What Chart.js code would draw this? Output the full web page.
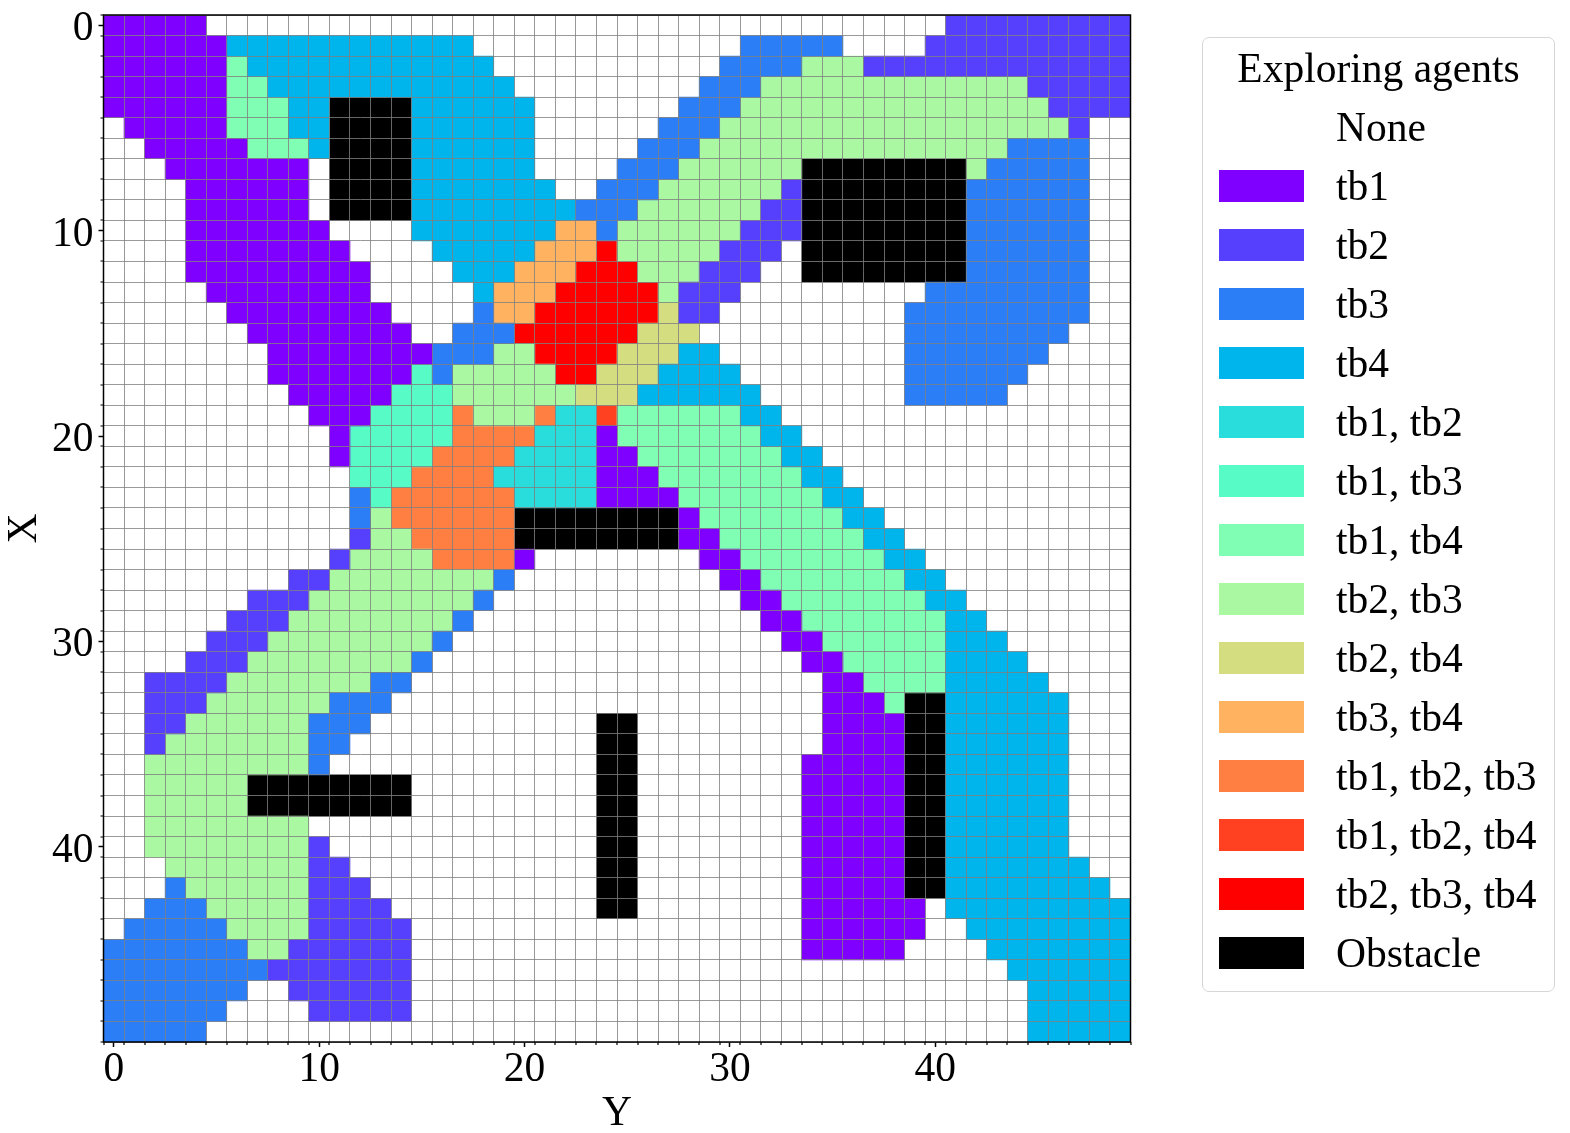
<!DOCTYPE html>
<html lang="en">
<head>
  <meta charset="UTF-8">
  <title>Exploring agents</title>
  <script src="https://cdn.jsdelivr.net/npm/chart.js"></script>
  <style>
    body {
      margin: 0;
      background: #ffffff;
      font-family: 'Liberation Serif', serif;
      color: #000000;
    }
    #wrap {
      position: relative;
      width: 1570px;
      height: 1133px;
      overflow: hidden;
    }
    #legend {
      position: absolute;
      left: 1202px;
      top: 37px;
      width: 351px;
      height: 953px;
      border: 1.5px solid #d6d6d6;
      border-radius: 7px;
      font-size: 41.5px;
    }
    #legend .title {
      position: absolute;
      left: 0;
      right: 0;
      top: 3px;
      line-height: 54px;
      text-align: center;
    }
    #legend .row {
      position: absolute;
      left: 16px;
      height: 59px;
      display: flex;
      align-items: center;
    }
    #legend .swatch {
      width: 85px;
      height: 32px;
      margin-right: 32px;
    }
  </style>
</head>
<body>
  <div id="wrap">
    <canvas id="grid" width="1570" height="1133"></canvas>
    <div id="legend"></div>
  </div>

  <script>
    const categories = ['None', 'tb1', 'tb2', 'tb3', 'tb4', 'tb1, tb2', 'tb1, tb3', 'tb1, tb4', 'tb2, tb3', 'tb2, tb4', 'tb3, tb4', 'tb1, tb2, tb3', 'tb1, tb2, tb4', 'tb2, tb3, tb4', 'Obstacle'];
    const categoryCodes = ['.', 'a', 'b', 'c', 'd', 'e', 'f', 'g', 'h', 'i', 'j', 'k', 'l', 'm', 'X'];
    const categoryColors = ['#ffffff', '#8000ff', '#5640fe', '#2c7ef7', '#00b5eb', '#2adddd', '#56fbc6', '#80ffb4', '#aaf9a2', '#d4dd80', '#ffb360', '#ff7e41', '#ff4121', '#ff0000', '#000000'];
    const xTickLabels = [0, 10, 20, 30, 40];
    const yTickLabels = [0, 10, 20, 30, 40];

    // one entry per row X = 0..49, each run is code + first Y - last Y
    const gridRuns = [
      'a0-4 b41-49',
      'a0-5 d6-17 c31-35 b40-49',
      'a0-5 g6-6 d7-18 c30-33 h34-36 b37-49',
      'a0-5 g6-7 d8-19 c29-31 h32-44 b45-49',
      'a0-5 g6-8 d9-10 X11-14 d15-20 c28-30 h31-45 b46-49',
      'a1-5 g6-8 d9-10 X11-14 d15-20 c27-29 h30-46 b47-47',
      'a2-6 g7-9 d10-10 X11-14 d15-20 c26-28 h29-43 c44-47',
      'a3-9 X11-14 d15-20 c25-27 h28-33 X34-41 h42-42 c43-47',
      'a4-9 X11-14 d15-21 c24-26 h27-32 b33-33 X34-41 c42-47',
      'a4-9 X11-14 d15-22 c23-25 h26-31 b32-33 X34-41 c42-47',
      'a4-10 d15-21 j22-23 c24-24 h25-30 b31-33 X34-41 c42-47',
      'a4-11 d16-20 j21-23 m24-24 h25-29 b30-32 X34-41 c42-47',
      'a4-12 d17-19 j20-22 m23-25 h26-28 b29-31 X34-41 c42-47',
      'a5-12 d18-18 j19-21 m22-26 h27-27 b28-30 c40-47',
      'a6-13 c18-18 j19-20 m21-26 i27-27 b28-29 c39-47',
      'a7-14 c17-19 m20-25 i26-28 c39-46',
      'a8-15 c16-18 h19-20 m21-24 i25-27 d28-29 c39-45',
      'a8-14 f15-15 c16-16 h17-21 m22-23 i24-26 d27-30 c39-44',
      'a9-13 f14-16 h17-22 i23-25 d26-31 c39-43',
      'a10-12 f13-16 k17-17 h18-20 k21-21 e22-23 l24-24 g25-30 d31-32',
      'a11-11 f12-16 k17-20 e21-23 a24-24 g25-31 d32-33',
      'a11-11 f12-15 k16-19 e20-23 a24-25 g26-32 d33-34',
      'f12-14 k15-18 e19-23 a24-26 g27-33 d34-35',
      'c12-12 f13-13 k14-19 e20-23 a24-27 g28-34 d35-36',
      'c12-12 h13-13 k14-19 X20-27 a28-28 g29-35 d36-37',
      'b12-12 h13-14 k15-19 X20-27 a28-29 g30-36 d37-38',
      'b11-11 h12-15 k16-19 a20-20 a29-30 g31-37 d38-39',
      'b9-10 h11-18 c19-19 a30-31 g32-38 d39-40',
      'b7-9 h10-17 c18-18 a31-32 g33-39 d40-41',
      'b6-8 h9-16 c17-17 a32-33 g34-40 d41-42',
      'b5-7 h8-15 c16-16 a33-34 g35-40 d41-43',
      'b4-6 h7-14 c15-15 a34-35 g36-40 d41-44',
      'b2-5 h6-12 c13-14 a35-36 g37-40 d41-45',
      'b2-4 h5-10 c11-13 a35-37 g38-38 X39-40 d41-46',
      'b2-3 h4-9 c10-12 X24-25 a35-38 X39-40 d41-46',
      'b2-2 h3-9 c10-11 X24-25 a35-38 X39-40 d41-46',
      'h2-9 c10-10 X24-25 a34-38 X39-40 d41-46',
      'h2-6 X7-14 X24-25 a34-38 X39-40 d41-46',
      'h2-6 X7-14 X24-25 a34-38 X39-40 d41-46',
      'h2-9 X24-25 a34-38 X39-40 d41-46',
      'h2-9 b10-10 X24-25 a34-38 X39-40 d41-46',
      'h3-9 b10-11 X24-25 a34-38 X39-40 d41-47',
      'c3-3 h4-9 b10-12 X24-25 a34-38 X39-40 d41-48',
      'c2-4 h5-9 b10-13 X24-25 a34-39 d41-49',
      'c1-5 h6-9 b10-14 a34-39 d42-49',
      'c0-6 h7-8 b9-14 a34-38 d43-49',
      'c0-7 b8-14 d44-49',
      'c0-6 b9-14 d45-49',
      'c0-5 b10-14 d45-49',
      'c0-4 d45-49'
    ];

    const gridSize = gridRuns.length;
    const plotLeft = 103.5;
    const plotRight = 1130.5;
    const plotTop = 15;
    const plotBottom = 1042;
    const cellSize = (plotBottom - plotTop) / gridSize;
    const fontFamily = "'Liberation Serif', serif";

    // split the run strings into one floating bar list per category
    const datasets = categories.map((name, i) => {
      const bars = [];
      gridRuns.forEach((runs, row) => {
        runs.split(' ').forEach(run => {
          if (run[0] !== categoryCodes[i]) return;
          const [from, to] = run.slice(1).split('-').map(Number);
          bars.push({ x: [from - 0.5, to + 0.5], y: row });
        });
      });
      return {
        label: name,
        data: bars,
        backgroundColor: categoryColors[i],
        borderWidth: 0,
        grouped: false,
        barThickness: cellSize
      };
    });

    // cell borders sit on the half values, labelled ticks on the whole ones
    function cellTicks(labels) {
      const ticks = [];
      for (let i = 0; i <= gridSize; i++) ticks.push({ value: i - 0.5 });
      labels.forEach(v => ticks.push({ value: v }));
      return ticks.sort((a, b) => a.value - b.value);
    }

    const isLabelled = ctx => ctx.tick && Number.isInteger(ctx.tick.value);

    function axisOptions(labels, titleText) {
      return {
        type: 'linear',
        min: -0.5,
        max: gridSize - 0.5,
        offset: false,
        afterBuildTicks: scale => { scale.ticks = cellTicks(labels); },
        ticks: {
          autoSkip: false,
          maxRotation: 0,
          padding: 5,
          color: '#000000',
          font: { family: fontFamily, size: 41.5 },
          callback: v => labels.includes(v) ? String(v) : ''
        },
        grid: {
          z: 1,
          offset: false,
          lineWidth: 1,
          tickLength: 5,
          color: ctx => isLabelled(ctx) ? 'rgba(0,0,0,0)' : 'rgba(128,128,128,0.8)',
          tickColor: ctx => isLabelled(ctx) ? '#000000' : 'rgba(0,0,0,0)',
          tickWidth: 1.5
        },
        border: { display: false },
        title: {
          display: true,
          text: titleText,
          color: '#000000',
          font: { family: fontFamily, size: 41.5 },
          padding: 0
        }
      };
    }

    // short ticks on the cell borders and the box round the plot
    const framePlugin = {
      id: 'frame',
      afterDraw(chart) {
        const { ctx, chartArea, scales } = chart;
        ctx.save();
        ctx.strokeStyle = '#000000';
        ctx.lineWidth = 1.2;
        for (let i = 0; i <= gridSize; i++) {
          const px = Math.round(scales.x.getPixelForValue(i - 0.5));
          const py = Math.round(scales.y.getPixelForValue(i - 0.5));
          ctx.beginPath();
          ctx.moveTo(px, chartArea.bottom);
          ctx.lineTo(px, chartArea.bottom + 3);
          ctx.moveTo(chartArea.left, py);
          ctx.lineTo(chartArea.left - 3, py);
          ctx.stroke();
        }
        ctx.lineWidth = 1.5;
        ctx.strokeRect(chartArea.left, chartArea.top, chartArea.width, chartArea.height);
        ctx.restore();
      }
    };

    const xAxis = axisOptions(xTickLabels, 'Y');
    xAxis.ticks.padding = -2;
    xAxis.title.padding = { top: 0, bottom: -6 };
    xAxis.afterFit = scale => {
      scale.height = 1133 - plotBottom;
      scale.paddingLeft = 0;
      scale.paddingRight = 0;
    };
    const yAxis = axisOptions(yTickLabels, 'X');
    yAxis.reverse = true;
    yAxis.ticks.labelOffset = 4;
    yAxis.afterFit = scale => {
      scale.width = plotLeft;
      scale.paddingTop = 0;
      scale.paddingBottom = 0;
    };

    new Chart(document.getElementById('grid'), {
      type: 'bar',
      data: { datasets: datasets },
      options: {
        indexAxis: 'y',
        responsive: false,
        animation: false,
        layout: { padding: { top: plotTop, right: 1570 - plotRight, left: 0, bottom: 0 } },
        plugins: { legend: { display: false }, tooltip: { enabled: false } },
        scales: { x: xAxis, y: yAxis }
      },
      plugins: [framePlugin]
    });

    // legend
    const legend = document.getElementById('legend');
    const title = document.createElement('div');
    title.className = 'title';
    title.textContent = 'Exploring agents';
    legend.appendChild(title);
    categories.forEach((name, i) => {
      const row = document.createElement('div');
      row.className = 'row';
      row.style.top = (59 + i * 59) + 'px';
      const swatch = document.createElement('div');
      swatch.className = 'swatch';
      swatch.style.background = categoryColors[i];
      const text = document.createElement('div');
      text.textContent = name;
      row.appendChild(swatch);
      row.appendChild(text);
      legend.appendChild(row);
    });
  </script>
</body>
</html>
